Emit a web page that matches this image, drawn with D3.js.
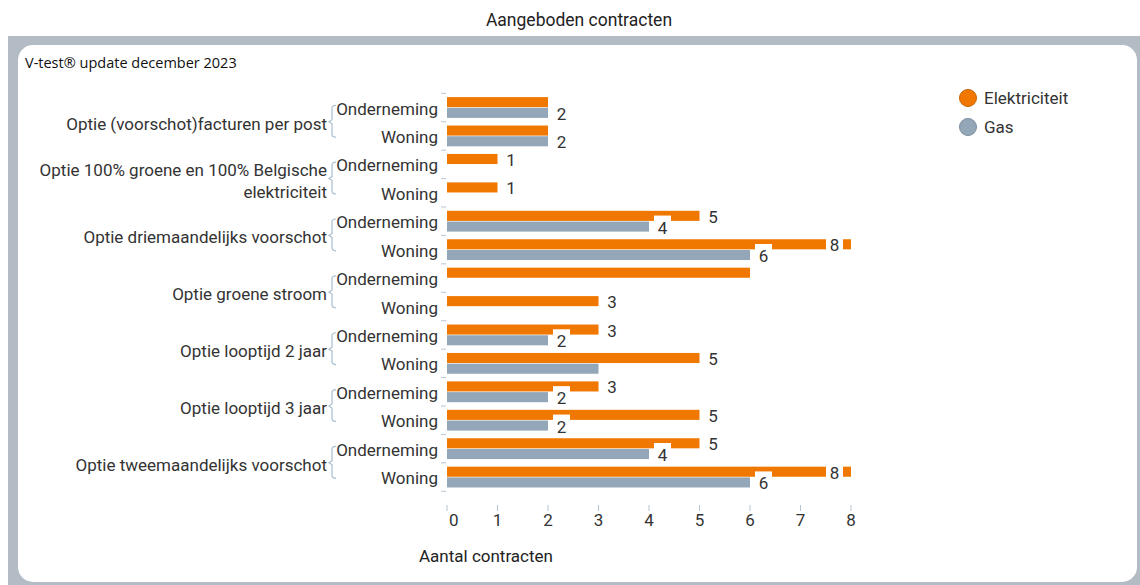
<!DOCTYPE html>
<html>
<head>
<meta charset="utf-8">
<script src="https://cdn.jsdelivr.net/npm/d3@7/dist/d3.min.js"></script>
<style>
  body { margin: 0; background: #fff; }
  svg { display: block; font-family: Roboto, "Noto Sans", sans-serif; }
</style>
</head>
<body>
<div id="chart"></div>
<script>
// data
var groups = [
    "Optie (voorschot)facturen per post",
    "Optie 100% groene en 100% Belgische elektriciteit",
    "Optie driemaandelijks voorschot",
    "Optie groene stroom",
    "Optie looptijd 2 jaar",
    "Optie looptijd 3 jaar",
    "Optie tweemaandelijks voorschot"
];
var segments = ["Onderneming", "Woning"];
var elektriciteit = [[2, 2], [1, 1], [5, 8], [6, 3], [3, 5], [3, 5], [5, 8]];
var gas = [[2, 2], [null, null], [4, 6], [null, null], [2, 3], [2, 2], [4, 6]];
var xTicks = [0, 1, 2, 3, 4, 5, 6, 7, 8];
// labels the original chart dropped because they collided
var hiddenLabels = ["0-0-E", "0-1-E", "3-0-E", "4-1-G"];

var width = 1140,
    height = 585;
var orange = "#f07800",
    grey = "#94a7b8",
    textColor = "#333",
    fs = "17px";

var svg = d3.select("#chart").append("svg")
    .attr("width", width)
    .attr("height", height);

// title
svg.append("text")
    .attr("x", 579).attr("y", 26)
    .attr("text-anchor", "middle")
    .style("font-size", "17.5px")
    .style("fill", "#222")
    .text("Aangeboden contracten");

// grey frame with rounded white card
svg.append("rect")
    .attr("x", 8).attr("y", 36)
    .attr("width", width - 8).attr("height", height - 36)
    .style("fill", "#b3bcc5");
svg.append("rect")
    .attr("x", 18).attr("y", 45)
    .attr("width", 1119).attr("height", 537)
    .attr("rx", 15)
    .style("fill", "#fff");

svg.append("text")
    .attr("x", 25).attr("y", 68)
    .style("font-family", "'Open Sans', sans-serif")
    .style("font-size", "14.5px")
    .style("fill", "#111")
    .text("V-test\u00ae update december 2023");

// flatten groups into rows
var rows = [];
groups.forEach(function(g, gi) {
    segments.forEach(function(s, si) {
        rows.push({ group: gi, seg: si, key: gi + "-" + si, name: s,
                    E: elektriciteit[gi][si], G: gas[gi][si] });
    });
});

var x = d3.scaleLinear().domain([0, 8]).range([447, 851]);
var y = d3.scaleBand()
    .domain(rows.map(function(d) { return d.key; }))
    .range([93.3, 491.3]);
var ys = d3.scaleBand().domain(["E", "G"]).range([3.8, 24.6]).paddingInner(0.06);

// row tick dashes
var bounds = d3.range(rows.length + 1).map(function(i) { return 93.3 + i * y.step(); });
svg.selectAll(".rowtick")
    .data(bounds)
    .enter().append("line")
    .attr("x1", 441).attr("x2", 446)
    .attr("y1", function(d) { return d; })
    .attr("y2", function(d) { return d; })
    .style("stroke", "#b9c6d1")
    .style("stroke-width", 1);

// segment labels
svg.selectAll(".seglabel")
    .data(rows)
    .enter().append("text")
    .attr("x", 438)
    .attr("y", function(d) { return y(d.key) + y.bandwidth() / 2 + 1; })
    .attr("text-anchor", "end")
    .attr("dominant-baseline", "central")
    .style("font-size", fs)
    .style("fill", textColor)
    .text(function(d) { return d.name; });

// group labels and braces
groups.forEach(function(g, gi) {
    var top = y(gi + "-0"), bottom = y(gi + "-1") + y.bandwidth();
    var mid = (top + bottom) / 2;
    var bx = 332, y1 = top + 12, y2 = bottom - 13;
    svg.append("path")
        .attr("d", "M" + (bx + 4) + "," + y1 + " Q" + bx + "," + y1 + " " + bx + "," + (y1 + 3) +
            " L" + bx + "," + (mid - 2) + " L" + (bx - 3) + "," + mid + " L" + bx + "," + (mid + 2) +
            " L" + bx + "," + (y2 - 3) + " Q" + bx + "," + y2 + " " + (bx + 4) + "," + y2)
        .style("fill", "none")
        .style("stroke", "#a9bfcf")
        .style("stroke-width", 1.2);

    var t = svg.append("text")
        .attr("x", 327)
        .attr("text-anchor", "end")
        .style("font-size", fs)
        .style("fill", textColor);
    // wrap long labels
    var words = g.split(" "), lines = [], line = [];
    var probe = svg.append("text").style("font-size", fs);
    words.forEach(function(w) {
        line.push(w);
        probe.text(line.join(" "));
        if (probe.node().getComputedTextLength() > 300 && line.length > 1) {
            line.pop();
            lines.push(line.join(" "));
            line = [w];
        }
    });
    lines.push(line.join(" "));
    probe.remove();
    var lh = 22;
    lines.forEach(function(l, i) {
        t.append("tspan")
            .attr("x", 327)
            .attr("y", mid + 2 + (i - (lines.length - 1) / 2) * lh)
            .attr("dominant-baseline", "central")
            .text(l);
    });
});

// bars
var bars = [];
rows.forEach(function(d) {
    if (d.E != null) bars.push({ row: d, s: "E", v: d.E });
    if (d.G != null) bars.push({ row: d, s: "G", v: d.G });
});

svg.selectAll(".bar")
    .data(bars)
    .enter().append("rect")
    .attr("x", x(0))
    .attr("y", function(d) { return y(d.row.key) + ys(d.s); })
    .attr("width", function(d) { return x(d.v) - x(0); })
    .attr("height", ys.bandwidth())
    .style("fill", function(d) { return d.s === "E" ? orange : grey; });

// value labels with white boxes
var boxW = 17;
var labels = bars.filter(function(d) {
    return hiddenLabels.indexOf(d.row.key + "-" + d.s) < 0;
});
var lab = svg.selectAll(".vlabel")
    .data(labels)
    .enter().append("g")
    .attr("transform", function(d) {
        var bx = x(d.v) + 5;
        if (bx + boxW > x(8)) bx = x(d.v) - boxW - 8;
        var cy = y(d.row.key) + ys(d.s) + ys.bandwidth() / 2 + 1;
        return "translate(" + bx + "," + cy + ")";
    });
lab.append("rect")
    .attr("x", 0).attr("y", -12)
    .attr("width", boxW).attr("height", 23)
    .style("fill", "#fff");
lab.append("text")
    .attr("x", boxW / 2).attr("y", 0)
    .attr("text-anchor", "middle")
    .attr("dominant-baseline", "central")
    .style("font-size", fs)
    .style("fill", textColor)
    .text(function(d) { return d.v; });

// x axis
var axis = svg.append("g").attr("transform", "translate(0,505)");
axis.selectAll("line")
    .data(xTicks)
    .enter().append("line")
    .attr("x1", function(d) { return x(d); })
    .attr("x2", function(d) { return x(d); })
    .attr("y1", 0).attr("y2", 6)
    .style("stroke", "#b9c6d1");
axis.selectAll("text")
    .data(xTicks)
    .enter().append("text")
    .attr("x", function(d) { return d === 0 ? x(d) + 2 : x(d); })
    .attr("y", 15)
    .attr("text-anchor", function(d) { return d === 0 ? "start" : "middle"; })
    .attr("dominant-baseline", "central")
    .style("font-size", fs)
    .style("fill", textColor)
    .text(function(d) { return d; });

svg.append("text")
    .attr("x", 419).attr("y", 556)
    .attr("dominant-baseline", "central")
    .style("font-size", fs)
    .style("fill", "#222")
    .text("Aantal contracten");

// legend
var legend = svg.append("g");
[["Elektriciteit", orange, "#c96400"], ["Gas", grey, "#7b8d9e"]].forEach(function(l, i) {
    legend.append("circle")
        .attr("cx", 968).attr("cy", 98 + i * 29)
        .attr("r", 8.5)
        .style("fill", l[1])
        .style("stroke", l[2])
        .style("stroke-width", 1);
    legend.append("text")
        .attr("x", 984).attr("y", 98 + i * 29)
        .attr("dominant-baseline", "central")
        .style("font-size", fs)
        .style("fill", textColor)
        .text(l[0]);
});
</script>
</body>
</html>
